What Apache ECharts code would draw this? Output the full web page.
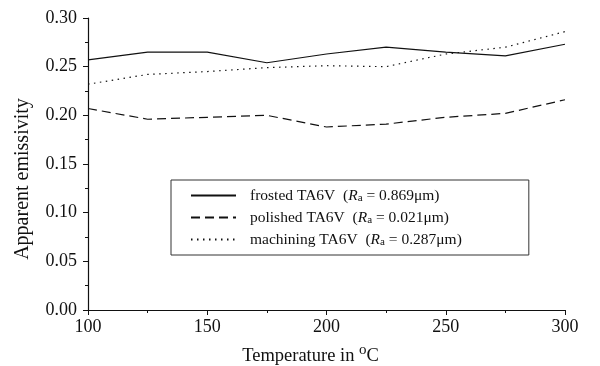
<!DOCTYPE html>
<html>
<head>
<meta charset="utf-8">
<script src="https://cdn.jsdelivr.net/npm/echarts@6/dist/echarts.min.js"></script>
<style>
  html, body { margin: 0; padding: 0; background: #fff; }
  #chart { width: 600px; height: 366px; }
</style>
</head>
<body>
<div id="chart"></div>
<script>
// temperatures (°C)
const temps = [100, 125, 150, 175, 200, 225, 250, 275, 300];
// apparent emissivity per surface
const frosted = [0.257, 0.265, 0.265, 0.254, 0.263, 0.270, 0.265, 0.261, 0.273];
const polished = [0.207, 0.196, 0.198, 0.200, 0.188, 0.191, 0.198, 0.202, 0.216];
const machining = [0.232, 0.242, 0.245, 0.249, 0.251, 0.250, 0.263, 0.270, 0.286];
const seriesNames = ["frosted", "polished", "machining"];
const raValues = ["0.869", "0.021", "0.287"];

const font = "'Liberation Serif', 'Times New Roman', serif";
const ink = "#111";

const pairs = (ys) => temps.map((t, i) => [t, ys[i]]);

const chart = echarts.init(document.getElementById("chart"));

const mkSeries = (name, ys, type) => ({
  name: name,
  type: "line",
  data: pairs(ys),
  symbol: "none",
  lineStyle: { color: ink, width: 1.2, type: type },
  itemStyle: { color: ink },
});

const lf = 15.5;

chart.setOption({
  animation: false,
  grid: { left: 88, right: 35, top: 18, bottom: 56, outerBoundsMode: "none", containLabel: false },
  legend: {
    orient: "vertical",
    left: 171,
    top: 180,
    padding: [7, 67, 7, 19],
    borderColor: "#333",
    borderWidth: 1,
    itemWidth: 45,
    itemHeight: 14,
    itemGap: 5,
    itemStyle: { opacity: 0, borderWidth: 0 },
    textStyle: {
      fontFamily: font,
      fontSize: lf,
      color: ink,
      rich: {
        sp: { width: 9, height: 16, lineHeight: 16 },
        i: { fontFamily: font, fontSize: lf, fontStyle: "italic", color: ink, lineHeight: 16 },
        sub: { fontFamily: font, fontSize: 11, color: ink, padding: [6, 0, 0, 0], lineHeight: 16 },
        t: { fontFamily: font, fontSize: lf, color: ink, lineHeight: 16 },
      },
    },
    formatter: function (name) {
      const k = seriesNames.indexOf(name);
      return "{sp|}{t|" + name + " TA6V  (}{i|R}{sub|a}{t| = " + raValues[k] + "μm)}";
    },
    data: seriesNames,
  },
  xAxis: {
    type: "value",
    min: 100,
    max: 300,
    interval: 50,
    name: "Temperature in {sup|o}C",
    nameLocation: "middle",
    nameGap: 33,
    nameTextStyle: {
      fontFamily: font,
      fontSize: 18.5,
      color: ink,
      padding: [0, 32, 0, 0],
      rich: { sup: { fontFamily: font, fontSize: 15, color: ink, padding: [0, 0, 12, 0] } },
    },
    axisLine: { lineStyle: { color: ink, width: 1.2 } },
    axisTick: { length: 5, lineStyle: { color: ink } },
    minorTick: { show: true, splitNumber: 2, length: 3, lineStyle: { color: ink } },
    splitLine: { show: false },
    axisLabel: { fontFamily: font, fontSize: 18, color: ink, margin: 8 },
  },
  yAxis: {
    type: "value",
    min: 0,
    max: 0.3,
    interval: 0.05,
    name: "Apparent emissivity",
    nameLocation: "middle",
    nameGap: 55,
    nameTextStyle: { fontFamily: font, fontSize: 20, color: ink, padding: [0, 30, 0, 0] },
    axisLine: { show: true, lineStyle: { color: ink, width: 1.2 } },
    axisTick: { show: true, length: 5, lineStyle: { color: ink } },
    minorTick: { show: true, splitNumber: 2, length: 3, lineStyle: { color: ink } },
    splitLine: { show: false },
    axisLabel: {
      fontFamily: font,
      fontSize: 18,
      color: ink,
      margin: 11,
      formatter: (v) => v.toFixed(2),
    },
  },
  series: [
    mkSeries("frosted", frosted, "solid"),
    mkSeries("polished", polished, [9, 5]),
    mkSeries("machining", machining, [1.5, 4.5]),
  ],
});
</script>
</body>
</html>
